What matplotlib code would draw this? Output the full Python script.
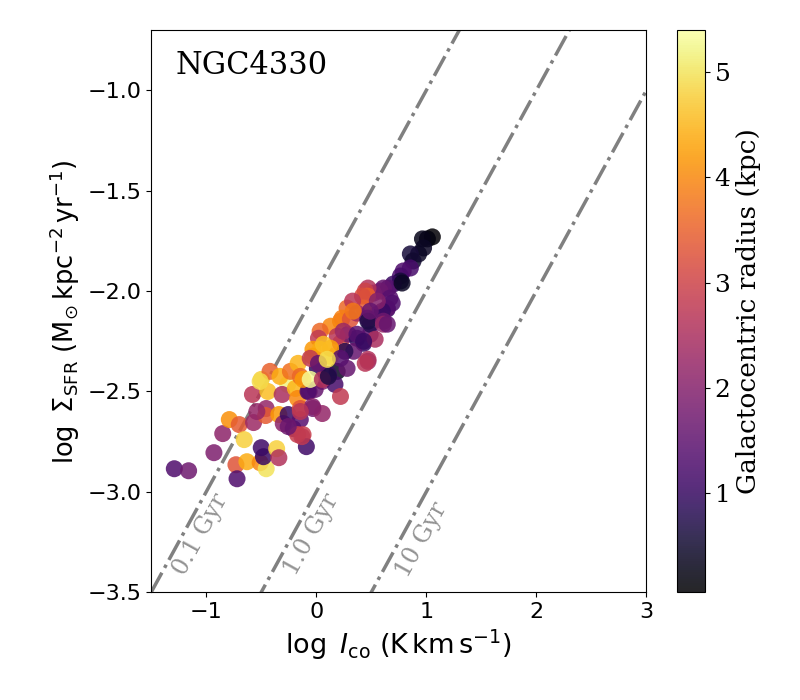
import numpy as np
import matplotlib
matplotlib.use('Agg')
import matplotlib.pyplot as plt

plt.rcParams['mathtext.fontset'] = 'dejavusans'

galaxy = 'NGC4330'

# log I_co (K km/s), log Sigma_SFR, galactocentric radius (kpc)
log_ico = [-0.26, -1.29, -1.16, -0.93, -0.85, -0.79, -0.70, -0.655, -0.73, -0.72, -0.63,
           -0.51, -0.455, -0.50, -0.48, -0.36, -0.34, -0.57, -0.58, -0.455, -0.46,
           -0.50, -0.42, -0.33, -0.44, -0.31, -0.34, -0.30, -0.255, -0.21, -0.145,
           -0.12, -0.09, -0.19, -0.17, -0.145, -0.235, -0.165, -0.145, -0.065, -0.03,
           0.01, 0.28, 0.22, 0.13, 0.035, 0.02, -0.03, 0.035, -0.035, 0.13,
           0.22, 0.29, 0.37, 0.43, 0.49, 0.47, 0.34, 0.26, 0.19, 0.11,
           0.055, 0.17, 0.22, -0.01, -0.075, -0.12, 0.055, 0.645, 0.555, 0.49,
           1.055, 1.01, 0.965, 0.975, 0.93, 0.855, 0.88, 0.855, 0.79, 0.765,
           0.765, 0.70, 0.655, 0.61, 0.58, 0.52, 0.47, 0.445, 0.465, 0.42,
           0.43, 0.67, 0.645, 0.69, 0.60, 0.555, 0.33, 0.235, 0.31, 0.37,
           0.465, 0.47, 0.61, 0.49, 0.19, 0.245, 0.37, 0.61, 0.47, -0.17,
           0.13, 0.065, 0.335, 0.535, 0.28, 0.22, 0.645, 0.78, -0.51,
           -0.055, 0.055, 0.11, -0.035, -0.145, -0.13, -0.255, -0.055, 0.02, 0.10,
           -0.54, 0.445, 0.43]
log_sfr = [-2.465, -2.885, -2.895, -2.805, -2.71, -2.64, -2.665, -2.74, -2.865, -2.935, -2.85,
           -2.855, -2.885, -2.78, -2.825, -2.785, -2.83, -2.655, -2.515, -2.585, -2.62,
           -2.44, -2.40, -2.425, -2.50, -2.515, -2.615, -2.66, -2.615, -2.685, -2.64,
           -2.715, -2.775, -2.485, -2.535, -2.585, -2.40, -2.36, -2.425, -2.50, -2.585,
           -2.385, -2.085, -2.15, -2.175, -2.20, -2.235, -2.29, -2.29, -2.325, -2.325,
           -2.26, -2.215, -2.235, -2.26, -2.215, -2.35, -2.30, -2.30, -2.40, -2.415,
           -2.45, -2.465, -2.525, -2.49, -2.50, -2.44, -2.61, -2.09, -2.115, -2.165,
           -1.73, -1.74, -1.74, -1.785, -1.815, -1.815, -1.85, -1.885, -1.90, -1.925,
           -1.95, -1.965, -1.985, -1.985, -2.00, -2.01, -1.985, -2.00, -2.025, -2.025,
           -2.085, -2.035, -2.085, -2.06, -2.10, -2.05, -2.05, -2.135, -2.14, -2.11,
           -2.135, -2.15, -2.15, -2.10, -2.225, -2.20, -2.215, -2.165, -2.34, -2.715,
           -2.285, -2.265, -2.10, -2.24, -2.385, -2.335, -2.165, -1.96, -2.45,
           -2.44, -2.44, -2.425, -2.575, -2.60, -2.725, -2.675, -2.335, -2.36, -2.34,
           -2.60, -2.36, -2.25]
radius = [5.2, 1.3, 1.7, 1.9, 2.1, 4.1, 3.4, 4.8, 3.3, 1.3, 4.4,
          4.0, 5.0, 1.1, 1.0, 4.8, 2.6, 2.3, 2.7, 2.2, 3.4,
          4.8, 3.5, 4.4, 4.6, 2.5, 4.2, 2.1, 1.0, 1.1, 1.4,
          2.9, 1.1, 4.5, 4.0, 3.3, 3.7, 4.5, 3.6, 1.6, 1.8,
          0.9, 3.6, 3.9, 4.0, 3.6, 2.8, 4.2, 4.4, 4.3, 4.9,
          3.3, 1.6, 0.9, 1.0, 1.5, 2.3, 1.6, 0.8, 0.4, 1.0,
          2.0, 1.2, 2.8, 1.6, 1.3, 4.2, 2.2, 1.0, 1.5, 0.8,
          0.1, 0.2, 0.3, 0.4, 0.4, 0.6, 0.5, 1.2, 1.3, 1.2,
          0.6, 1.0, 1.4, 1.6, 1.7, 1.8, 2.6, 3.0, 3.5, 3.2,
          3.5, 1.4, 1.5, 1.3, 1.0, 2.0, 2.7, 3.9, 3.3, 2.4,
          1.6, 0.7, 1.7, 1.6, 2.7, 2.3, 1.4, 2.2, 2.6, 2.9,
          4.3, 4.6, 3.8, 2.5, 1.6, 1.4, 1.6, 0.4, 4.9,
          5.3, 2.6, 0.7, 2.0, 2.7, 2.8, 1.7, 2.8, 1.6, 4.9,
          2.2, 2.7, 1.0]

# constant depletion time lines (log t_dep offset) and labels
dep_offsets = [2, 3, 4]
dep_labels = ['0.1 Gyr', '1.0 Gyr', '10 Gyr']
label_x = [-1.05, -0.04, 0.96]
label_y = [-3.21, -3.21, -3.24]

fig = plt.figure(figsize=(8, 7), dpi=100)
ax = fig.add_axes([0.189, 0.154, 0.619, 0.803])
cax = fig.add_axes([0.846, 0.154, 0.035, 0.803])

xx = np.array([-1.5, 3.0])
for off in dep_offsets:
    ax.plot(xx, xx - off, color='gray', ls='-.', lw=2.5, zorder=1)
for lab, lx, ly in zip(dep_labels, label_x, label_y):
    ax.text(lx, ly, lab, rotation=61, color='gray', alpha=0.85, family='DejaVu Serif',
            fontsize=17, ha='center', va='center')

sc = ax.scatter(log_ico, log_sfr, c=radius, cmap='inferno', s=150, alpha=0.85,
                edgecolors='none', vmin=0.06, vmax=5.4, zorder=2)

ax.set_xlim(-1.5, 3)
ax.set_ylim(-3.5, -0.7)
ax.set_xticks([-1, 0, 1, 2, 3])
ax.set_yticks([-3.5, -3.0, -2.5, -2.0, -1.5, -1.0])
ax.tick_params(labelsize=16)
ax.set_xlabel(r'$\log\ I_{\rm co}\ ({\rm K\,km\,s^{-1}})$', fontsize=19.5)
ax.set_ylabel(r'$\log\ \Sigma_{\rm SFR}\ ({\rm M_{\odot}\,kpc^{-2}\,yr^{-1}})$', fontsize=18.5)
ax.text(0.05, 0.965, galaxy, transform=ax.transAxes, family='DejaVu Serif',
        fontsize=22, ha='left', va='top')

cb = fig.colorbar(sc, cax=cax, ticks=[1, 2, 3, 4, 5])
cb.ax.tick_params(labelsize=18)
for t in cb.ax.get_yticklabels():
    t.set_family('DejaVu Serif')
cb.set_label('Galactocentric radius (kpc)', family='DejaVu Serif', fontsize=19)

plt.savefig('out.png')
